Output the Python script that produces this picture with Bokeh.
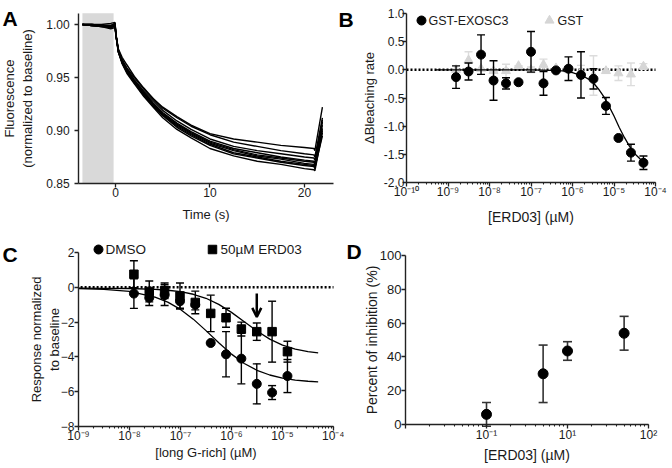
import json
from bokeh.plotting import figure
from bokeh.models import (BoxAnnotation, Label, FixedTicker, NumeralTickFormatter,
                          CustomJSTickFormatter, Arrow, OpenHead)
from bokeh.layouts import column, row
from bokeh.embed import file_html
from bokeh.resources import INLINE

FONT = "Liberation Sans"

# ---------------- Panel A data ----------------
a_time = [-3.5, -2.5, -1.5, -0.5, -0.05, 0.05, 0.3, 0.7, 1.2, 2, 3, 4, 5, 6.5, 8, 10,
          12.5, 15, 17.5, 20, 21, 21.1, 21.9]
a_trace_1 = [1.000, 1.000, 1.000, 1.001, 1.002, 0.991, 0.977, 0.969, 0.962, 0.951, 0.940, 0.930, 0.922, 0.913, 0.905, 0.897, 0.892, 0.889, 0.886, 0.884, 0.883, 0.881, 0.922]
a_trace_2 = [1.000, 1.000, 0.999, 0.999, 1.001, 0.991, 0.976, 0.967, 0.959, 0.950, 0.939, 0.930, 0.921, 0.912, 0.904, 0.896, 0.889, 0.885, 0.881, 0.878, 0.877, 0.875, 0.912]
a_trace_3 = [1.000, 0.999, 0.999, 0.997, 0.999, 0.990, 0.976, 0.966, 0.958, 0.948, 0.937, 0.928, 0.919, 0.909, 0.901, 0.892, 0.885, 0.881, 0.878, 0.875, 0.874, 0.872, 0.908]
a_trace_4 = [1.000, 0.999, 0.999, 0.998, 1.000, 0.990, 0.975, 0.965, 0.957, 0.947, 0.936, 0.926, 0.917, 0.907, 0.899, 0.890, 0.883, 0.879, 0.875, 0.872, 0.871, 0.869, 0.905]
a_trace_5 = [1.000, 1.000, 0.999, 0.999, 1.001, 0.990, 0.975, 0.965, 0.957, 0.946, 0.935, 0.925, 0.916, 0.906, 0.898, 0.889, 0.882, 0.877, 0.874, 0.871, 0.870, 0.868, 0.910]
a_trace_6 = [1.000, 0.999, 0.998, 0.998, 0.999, 0.990, 0.975, 0.964, 0.956, 0.946, 0.935, 0.925, 0.915, 0.905, 0.897, 0.888, 0.881, 0.876, 0.873, 0.869, 0.868, 0.866, 0.902]
a_trace_7 = [1.000, 1.000, 0.999, 0.998, 1.000, 0.990, 0.974, 0.964, 0.956, 0.945, 0.934, 0.924, 0.915, 0.904, 0.896, 0.887, 0.879, 0.875, 0.871, 0.868, 0.867, 0.865, 0.895]
a_trace_8 = [1.000, 0.999, 0.998, 0.997, 0.998, 0.990, 0.974, 0.964, 0.955, 0.945, 0.933, 0.923, 0.914, 0.903, 0.895, 0.886, 0.878, 0.874, 0.870, 0.867, 0.866, 0.864, 0.900]
a_trace_9 = [1.000, 0.999, 0.998, 0.996, 0.997, 0.989, 0.974, 0.963, 0.954, 0.944, 0.932, 0.922, 0.912, 0.901, 0.893, 0.883, 0.876, 0.871, 0.868, 0.864, 0.863, 0.862, 0.898]
a_shade = [-3.5, -0.2]
a_xbounds = (-3.9, 23.1)
a_ybounds = (0.85, 1.0105)
a_xticks = [0, 10, 20]
a_yticks = [0.85, 0.90, 0.95, 1.00]

# ---------------- Panel B data ----------------
b_conc = [1.5625e-9, 3.125e-9, 6.25e-9, 1.25e-8, 2.5e-8, 5e-8, 1e-7, 2e-7, 4e-7, 8e-7,
          1.6e-6, 3.2e-6, 6.4e-6, 1.28e-5, 2.56e-5, 5.12e-5]
b_exosc3 = [-0.13, -0.03, 0.27, -0.19, -0.24, -0.22, 0.32, -0.24, -0.01, 0.02, -0.09, -0.16, -0.64, -1.21, -1.47, -1.65]
b_exosc3_err = [0.20, 0.15, 0.35, 0.35, 0.10, 0.0, 0.36, 0.21, 0.0, 0.21, 0.41, 0.18, 0.15, 0.0, 0.15, 0.12]
b_gst = [0.0, 0.17, 0.02, -0.02, -0.02, 0.07, 0.0, 0.09, 0.03, 0.0, -0.04, -0.10, -0.02, -0.06, -0.08, 0.06]
b_gst_err = [0.0, 0.15, 0.0, 0.0, 0.12, 0.0, 0.05, 0.10, 0.0, 0.05, 0.12, 0.35, 0.0, 0.13, 0.20, 0.05]
b_fit_x = [5e-10, 1e-8, 1e-7, 3.16e-7, 5.62e-7, 1e-6, 1.78e-6, 2.37e-6, 3.16e-6, 4.22e-6,
           5.62e-6, 7.5e-6, 1e-5, 1.33e-5, 1.78e-5, 2.37e-5, 3.16e-5, 5e-5]
b_fit_y = [0.0, 0.0, 0.0, -0.01, -0.02, -0.05, -0.11, -0.16, -0.23, -0.34, -0.47, -0.64,
           -0.82, -1.02, -1.20, -1.36, -1.49, -1.63]
b_xbounds = (1e-10, 1e-4)
b_ybounds = (-2.0, 1.0)
b_yticks = [-2.0, -1.5, -1.0, -0.5, 0.0, 0.5, 1.0]
b_legend_labels = ["GST-EXOSC3", "GST"]
b_legend_marker_x = [2.298e-10, 2.791e-7]
b_legend_text_x = [3.389e-10, 4.350e-7]
b_legend_y = 0.8757

# ---------------- Panel C data ----------------
c_conc = [1.22e-8, 2.44e-8, 4.88e-8, 9.77e-8, 1.95e-7, 3.91e-7, 7.81e-7, 1.56e-6,
          3.13e-6, 6.25e-6, 1.25e-5]
c_dmso = [-0.36, -0.60, -0.45, -0.80, -1.00, -3.20, -3.85, -4.10, -5.55, -6.05, -5.10]
c_dmso_err = [0.85, 0.45, 0.60, 0.40, 0.30, 0.0, 1.30, 1.45, 1.15, 0.40, 0.95]
c_erd = [0.75, -0.24, -0.20, -0.50, -0.87, -1.50, -1.75, -2.40, -2.55, -2.55, -3.70]
c_erd_err = [0.78, 0.60, 0.45, 0.75, 0.65, 1.05, 0.55, 0.40, 0.50, 1.75, 0.60]
c_fit_x = [1e-9, 3.16e-9, 1e-8, 3.16e-8, 5.62e-8, 1e-7, 1.78e-7, 3.16e-7, 5.62e-7, 1e-6,
           1.78e-6, 3.16e-6, 5.62e-6, 1e-5, 1.78e-5, 3.16e-5, 5e-5]
c_dmso_fit = [-0.07, -0.12, -0.24, -0.56, -0.85, -1.27, -1.83, -2.49, -3.19, -3.84, -4.38,
              -4.77, -5.04, -5.22, -5.33, -5.40, -5.43]
c_erd_fit = [-0.05, -0.06, -0.07, -0.12, -0.17, -0.25, -0.40, -0.63, -0.98, -1.44, -1.98,
             -2.51, -2.98, -3.32, -3.55, -3.70, -3.77]
c_arrow_x = [3.13e-6, 3.13e-6]
c_arrow_y = [-0.36, -1.70]
c_xbounds = (1e-9, 1e-4)
c_ybounds = (-8, 2)
c_yticks = [-8, -6, -4, -2, 0, 2]
c_legend_labels = ["DMSO", "50\u00b5M ERD03"]
c_legend_marker_x = [2.467e-9, 4.240e-7]
c_legend_text_x = [3.383e-9, 6.085e-7]
c_legend_y = 2.172

# ---------------- Panel D data ----------------
d_conc = [1, 5, 10, 50]          # positions on the printed log axis
d_inhib = [6.0, 30.0, 43.5, 54.0]
d_err = [7.0, 17.0, 5.5, 10.0]
d_tick_labels = {"-1": "", "0": "10\u207b\u00b9", "1": "10\u00b9", "2": "10\u00b2"}
d_xbounds = (0.1, 100)
d_ybounds = (0, 100)
d_yticks = [0, 20, 40, 60, 80, 100]

baseline = 0.0
b_zero_x = [1e-10, 1e-4]
c_zero_x = [1.1e-9, 1e-4]

SUP = {"-": "\u207b", "0": "\u2070", "1": "\u00b9", "2": "\u00b2", "3": "\u00b3",
       "4": "\u2074", "5": "\u2075", "6": "\u2076", "7": "\u2077", "8": "\u2078", "9": "\u2079"}


def log_fmt(labels=None):
    code = "const sup = " + json.dumps(SUP) + ";\n"
    code += "const e = Math.round(Math.log10(tick));\n"
    if labels:
        code += "const lab = " + json.dumps(labels) + ";\n"
        code += "if (String(e) in lab) { return lab[String(e)]; }\n"
    code += 'return "10" + String(e).split("").map(c => sup[c]).join("");'
    return CustomJSTickFormatter(code=code)


def make_fig(w, h, xr, yr, xb, yb, **kw):
    # the frame fills the whole canvas; axes are pinned at the data bounds
    p = figure(width=w, height=h, x_range=xr, y_range=yr, min_border=0,
               min_border_left=0, min_border_right=0, min_border_top=0,
               min_border_bottom=0, output_backend="svg", toolbar_location=None, **kw)
    p.title.visible = False
    p.outline_line_color = None
    p.xgrid.visible = False
    p.ygrid.visible = False
    p.background_fill_color = "white"
    p.border_fill_color = "white"
    p.xaxis.fixed_location = yb[0]
    p.yaxis.fixed_location = xb[0]
    p.xaxis.bounds = xb
    p.yaxis.bounds = yb
    for ax in p.axis:
        ax.axis_line_width = 1.4
        ax.axis_line_color = "#222222"
        ax.major_tick_line_color = "#222222"
        ax.major_tick_line_width = 1.3
        ax.minor_tick_line_color = "#222222"
        ax.minor_tick_line_width = 1.1
        ax.major_tick_out = 4
        ax.major_tick_in = 0
        ax.minor_tick_out = 2
        ax.minor_tick_in = 0
        ax.major_label_text_font = FONT
        ax.major_label_text_font_size = "12px"
        ax.major_label_text_color = "#1a1a1a"
        ax.major_label_standoff = 3
        ax.axis_label_text_font = FONT
        ax.axis_label_text_font_size = "13px"
        ax.axis_label_text_font_style = "normal"
        ax.axis_label_text_color = "#1a1a1a"
    return p


def letter(p, txt, x, y):
    p.add_layout(Label(x=x, y=y, text=txt, text_font=FONT, text_font_size="21px",
                       text_font_style="bold", text_color="black",
                       text_baseline="alphabetic"))


def legend_text(p, txt, x, y, size):
    p.add_layout(Label(x=x, y=y, text=txt, text_font=FONT, text_font_size=size,
                       text_color="#1a1a1a", text_baseline="middle", text_align="left"))


def errbars(p, xs, ys, es, color, width=1.4, cap=8):
    lo = [y - e for y, e in zip(ys, es)]
    hi = [y + e for y, e in zip(ys, es)]
    p.segment(xs, lo, xs, hi, line_color=color, line_width=width)
    p.scatter(xs, lo, marker="dash", size=cap, line_color=color, line_width=width)
    p.scatter(xs, hi, marker="dash", size=cap, line_color=color, line_width=width)


# ---------------- Panel A ----------------
pA = make_fig(336, 234, (-12.17, 23.39), (0.8019, 1.0226), a_xbounds, a_ybounds)
pA.xaxis.ticker = FixedTicker(ticks=a_xticks)
pA.yaxis.ticker = FixedTicker(ticks=a_yticks)
pA.yaxis.formatter = NumeralTickFormatter(format="0.00")
pA.xaxis.axis_label = "Time (s)"
pA.yaxis.axis_label = "Fluorescence\n(normalized to baseline)"
pA.xaxis.major_label_standoff = 0
pA.yaxis.major_label_standoff = 5
pA.xaxis.axis_label_standoff = 7
pA.yaxis.axis_label_standoff = 8
pA.add_layout(BoxAnnotation(left=a_shade[0], right=a_shade[1], bottom=a_ybounds[0],
                            top=a_ybounds[1], fill_color="#d9d9d9", fill_alpha=1.0,
                            line_color=None, level="underlay"))
for tr in [a_trace_1, a_trace_2, a_trace_3, a_trace_4, a_trace_5, a_trace_6, a_trace_7,
           a_trace_8, a_trace_9]:
    pA.line(a_time, tr, line_color="black", line_width=1.4)
letter(pA, "A", -11.96, 1.0057)

# ---------------- Panel B ----------------
pB = make_fig(334, 234, (2.057e-12, 2.298e-4), (-2.9231, 1.2308), b_xbounds, b_ybounds,
              x_axis_type="log")
pB.yaxis.ticker = FixedTicker(ticks=b_yticks)
pB.yaxis.formatter = NumeralTickFormatter(format="0.0")
pB.xaxis.formatter = log_fmt()
pB.xaxis.axis_label = "[ERD03] (\u00b5M)"
pB.yaxis.axis_label = "\u0394Bleaching rate"
pB.xaxis.major_label_standoff = -1
pB.yaxis.major_label_standoff = -2
pB.xaxis.axis_label_standoff = 6
pB.yaxis.axis_label_standoff = 4
pB.xaxis.axis_label_text_font_size = "14px"
pB.line(b_zero_x, [baseline, baseline], line_color="black", line_width=2.5, line_dash="2 2")
errbars(pB, b_conc, b_gst, b_gst_err, "#dcdcdc")
pB.scatter(b_conc, b_gst, marker="triangle", size=9, fill_color="#d6d6d6", line_color="#d6d6d6")
pB.line(b_fit_x, b_fit_y, line_color="black", line_width=1.3)
errbars(pB, b_conc, b_exosc3, b_exosc3_err, "black")
pB.scatter(b_conc, b_exosc3, marker="circle", size=9, fill_color="black", line_color="black")
pB.scatter([b_legend_marker_x[0]], [b_legend_y], marker="circle", size=9,
           fill_color="black", line_color="black")
pB.scatter([b_legend_marker_x[1]], [b_legend_y], marker="triangle", size=9,
           fill_color="#d6d6d6", line_color="#d6d6d6")
for lab, tx in zip(b_legend_labels, b_legend_text_x):
    legend_text(pB, lab, tx, b_legend_y, "12.5px")
letter(pB, "B", 2.298e-12, 0.8935)

# ---------------- Panel C ----------------
pC = make_fig(344, 232, (2.955e-11, 1.643e-4), (-10.2989, 3.0345), c_xbounds, c_ybounds,
              x_axis_type="log")
pC.yaxis.ticker = FixedTicker(ticks=c_yticks)
pC.xaxis.formatter = log_fmt()
pC.xaxis.axis_label = "[long G-rich] (\u00b5M)"
pC.yaxis.axis_label = "Response normalized\nto baseline"
pC.xaxis.major_label_standoff = -1
pC.yaxis.major_label_standoff = 0
pC.xaxis.axis_label_standoff = -2
pC.yaxis.axis_label_standoff = -4
pC.line(c_zero_x, [baseline, baseline], line_color="black", line_width=2.5, line_dash="2 2")
pC.line(c_fit_x, c_dmso_fit, line_color="black", line_width=1.3)
pC.line(c_fit_x, c_erd_fit, line_color="black", line_width=1.3)
errbars(pC, c_conc, c_dmso, c_dmso_err, "black")
errbars(pC, c_conc, c_erd, c_erd_err, "black")
pC.scatter(c_conc, c_dmso, marker="circle", size=9, fill_color="black", line_color="black")
pC.scatter(c_conc, c_erd, marker="square", size=8.5, fill_color="black", line_color="black")
pC.add_layout(Arrow(end=OpenHead(size=9, line_width=2.5, line_color="black"),
                    x_start=c_arrow_x[0], y_start=c_arrow_y[0],
                    x_end=c_arrow_x[1], y_end=c_arrow_y[1],
                    line_width=2.5, line_color="black"))
pC.scatter([c_legend_marker_x[0]], [c_legend_y], marker="circle", size=9,
           fill_color="black", line_color="black")
pC.scatter([c_legend_marker_x[1]], [c_legend_y], marker="square", size=8.5,
           fill_color="black", line_color="black")
for lab, tx in zip(c_legend_labels, c_legend_text_x):
    legend_text(pC, lab, tx, c_legend_y, "13.5px")
letter(pC, "C", 3.234e-11, 1.885)

# ---------------- Panel D ----------------
pD = make_fig(326, 232, (0.01765, 186.9), (-24.85, 112.43), d_xbounds, d_ybounds,
              x_axis_type="log")
pD.yaxis.ticker = FixedTicker(ticks=d_yticks)
pD.xaxis.formatter = log_fmt(d_tick_labels)
pD.xaxis.axis_label = "[ERD03] (\u00b5M)"
pD.yaxis.axis_label = "Percent of inhibition (%)"
pD.xaxis.major_label_standoff = -1
pD.yaxis.major_label_standoff = 0
pD.xaxis.axis_label_standoff = 2
pD.yaxis.axis_label_standoff = -3
pD.xaxis.axis_label_text_font_size = "14px"
pD.yaxis.axis_label_text_font_size = "14px"
pD.yaxis.major_label_text_font_size = "13px"
errbars(pD, d_conc, d_inhib, d_err, "#333333", width=1.6, cap=9)
pD.scatter(d_conc, d_inhib, marker="circle", size=10, fill_color="black", line_color="black")
letter(pD, "D", 0.01869, 102.37)

layout = column(row(pA, pB), row(pC, pD))
with open("out.html", "w", encoding="utf-8") as f:
    f.write(file_html(layout, INLINE))
